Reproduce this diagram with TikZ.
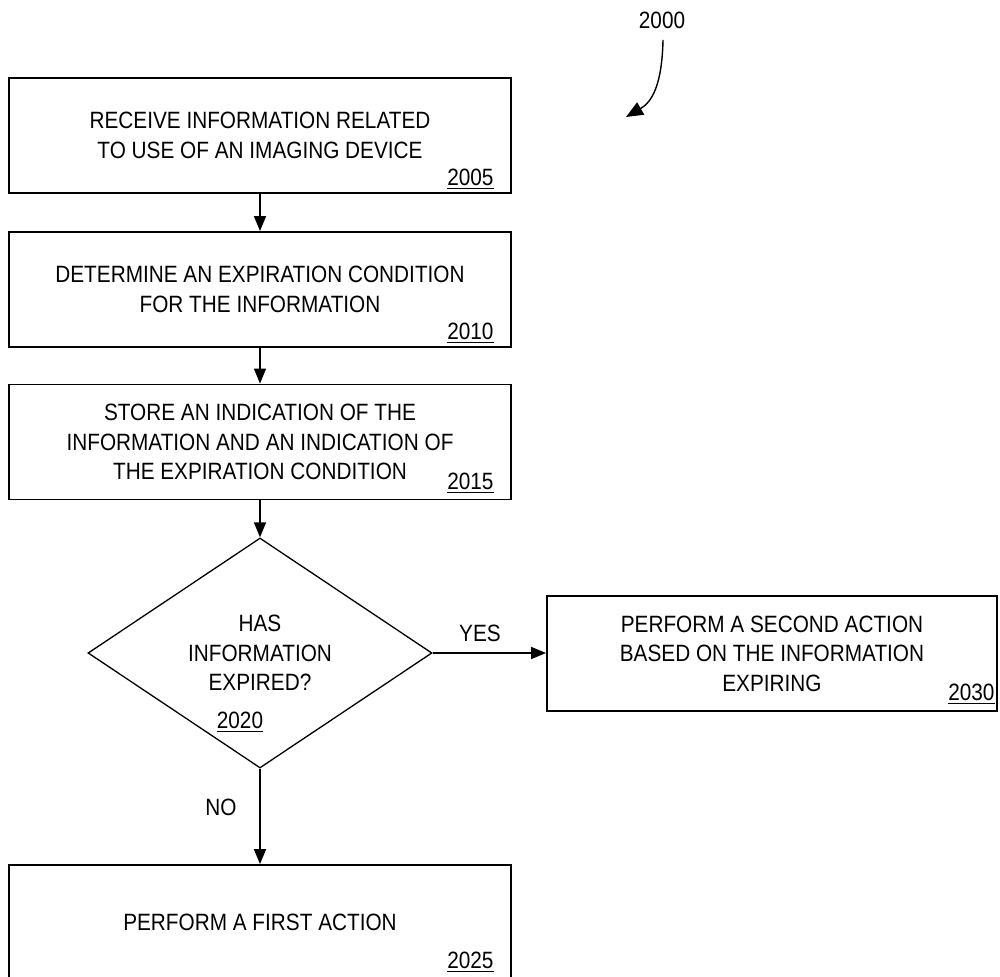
\documentclass[tikz,border=0pt]{standalone}
\usepackage{fontspec}
\setmainfont{Liberation Sans}[FakeStretch=0.88]
\usetikzlibrary{arrows.meta,shapes.geometric}
\begin{document}
\begin{tikzpicture}[x=0.5pt,y=-0.5pt,
  txtfont/.style={font=\fontsize{11.8}{14.8}\selectfont},
  box/.style={draw, line width=0.9pt, rectangle, minimum width=251pt, minimum height=57.5pt, inner sep=0pt, align=center, txtfont},
  dia/.style={draw, line width=0.65pt, diamond, minimum width=172pt, minimum height=115pt, inner sep=0pt},
  num/.style={inner sep=0pt, anchor=base east, txtfont},
  lbl/.style={inner sep=0pt, txtfont, align=center},
  arr/.style={line width=0.7pt, -{Triangle[length=7.5pt,width=6pt]}}
]
\useasboundingbox (0,0) rectangle (1000,977);

\node[box] (b2005) at (260,135.5) {RECEIVE INFORMATION RELATED\\TO USE OF AN IMAGING DEVICE};
\node[num] (n2005) at ([xshift=-9pt,yshift=4.25pt]b2005.south east) {\underline{2005}};

\node[box] (b2010) at (260,289.5) {DETERMINE AN EXPIRATION CONDITION\\FOR THE INFORMATION};
\node[num] (n2010) at ([xshift=-9pt,yshift=4.25pt]b2010.south east) {\underline{2010}};

\node[box] (b2015) at (260,442) {STORE AN INDICATION OF THE\\INFORMATION AND AN INDICATION OF\\THE EXPIRATION CONDITION};
\node[num] (n2015) at ([xshift=-9pt,yshift=5.5pt]b2015.south east) {\underline{2015}};

\node[dia] (d2020) at (260,653) {};
\node[lbl] (t2020) at (d2020.center) {HAS\\INFORMATION\\EXPIRED?};
\node[lbl, anchor=base] (n2020) at (240,728) {\underline{2020}};

\node[box, minimum width=225pt] (b2030) at (772,653.5) {PERFORM A SECOND ACTION\\BASED ON THE INFORMATION\\EXPIRING};
\node[num] (n2030) at ([xshift=-1.5pt,yshift=5.75pt]b2030.south east) {\underline{2030}};

\node[box, minimum height=57pt] (b2025) at (260,922) {PERFORM A FIRST ACTION};
\node[num] (n2025) at ([xshift=-9pt,yshift=5.75pt]b2025.south east) {\underline{2025}};

\node[lbl] (yes) at (480,633) {YES};
\node[lbl] (no) at (221,807) {NO};
\node[lbl] (n2000) at (662,20) {2000};

\draw[arr] (b2005) -- (b2010);
\draw[arr] (b2010) -- (b2015);
\draw[arr] (b2015) -- (d2020);
\draw[arr] (d2020.east) -- (d2020.east -| b2030.west);
\draw[arr] (d2020.south) -- (b2025.north);

\coordinate (c2000s) at (663,40);
\coordinate (c2000e) at (626,117);
\draw[line width=0.7pt, -{Triangle[length=8.5pt,width=7pt]}] (c2000s) .. controls (662,85) and (652,102) .. (c2000e);
\end{tikzpicture}
\end{document}
